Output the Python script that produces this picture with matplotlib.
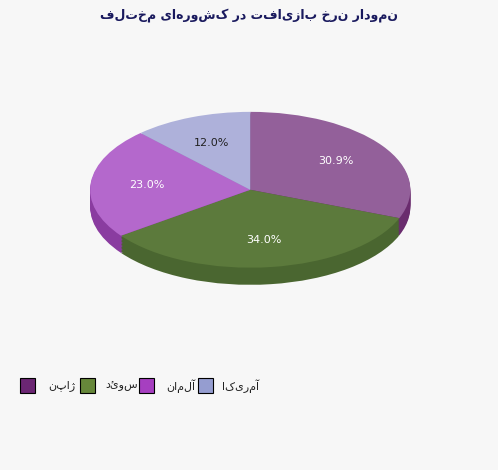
import matplotlib
matplotlib.use('Agg')
import matplotlib.pyplot as plt
from matplotlib.patches import Rectangle

title = 'نمودار نرخ بازیافت در کشورهای مختلف'
countries = ['ژاپن', 'سوئد', 'آلمان', 'آمریکا']
values = [30.9, 34.0, 23.0, 12.0]
top_colors = ['#93609a', '#5c7a3c', '#b468cc', '#aeb1da']
side_colors = ['#6a2c6e', '#4a6630', '#8a3ca0', '#8a8fc0']
legend_colors = ['#6b2673', '#66873a', '#a63fc0', '#959dd0']
label_colors = ['white', 'white', 'white', '#222222']

def rtl(s):
    # matplotlib has no bidi support, so flip to get right-to-left order
    return s[::-1]

plt.rcParams['font.family'] = ['DejaVu Sans']
fig = plt.figure(figsize=(4.98, 4.70), dpi=100, facecolor='#f7f7f7')
ax = fig.add_axes([0.181, 0.394, 0.643, 0.368])
ax.set_facecolor('#f7f7f7')

depth = 0.22
steps = 12
for i in range(steps, 0, -1):
    dy = depth * i / steps
    ax.pie(values, colors=side_colors, startangle=90, counterclock=False,
           center=(0, -dy), radius=1, wedgeprops=dict(linewidth=0))
wedges, texts = ax.pie(values, colors=top_colors, startangle=90, counterclock=False,
                       center=(0, 0), radius=1, wedgeprops=dict(linewidth=0))
import numpy as np
ang = 90.0
for v, c in zip(values, label_colors):
    mid = np.radians(ang - v * 3.6 / 2)
    ang -= v * 3.6
    ax.text(0.65 * np.cos(mid), 0.65 * np.sin(mid), '%.1f%%' % v,
            ha='center', va='center', color=c, fontsize=8)
ax.set_aspect('auto')
ax.set_xlim(-1, 1)
ax.set_ylim(-1 - depth, 1)
ax.axis('off')

fig.text(0.5, 1 - 15 / 470, rtl(title), ha='center', va='center',
         fontsize=9, fontweight='bold', color='#1a1a5e')

sq_x = [20, 80, 139, 198]
for x, name, col in zip(sq_x, countries, legend_colors):
    fig.patches.append(Rectangle((x / 498, 1 - 393 / 470), 15 / 498, 15 / 470,
                                 transform=fig.transFigure, facecolor=col,
                                 edgecolor='black', linewidth=0.8))
    fig.text((x + 42) / 498, 1 - 386 / 470, rtl(name), ha='center',
             va='center', fontsize=8, color='#222222')

fig.savefig('out.png', dpi=100, facecolor=fig.get_facecolor())
